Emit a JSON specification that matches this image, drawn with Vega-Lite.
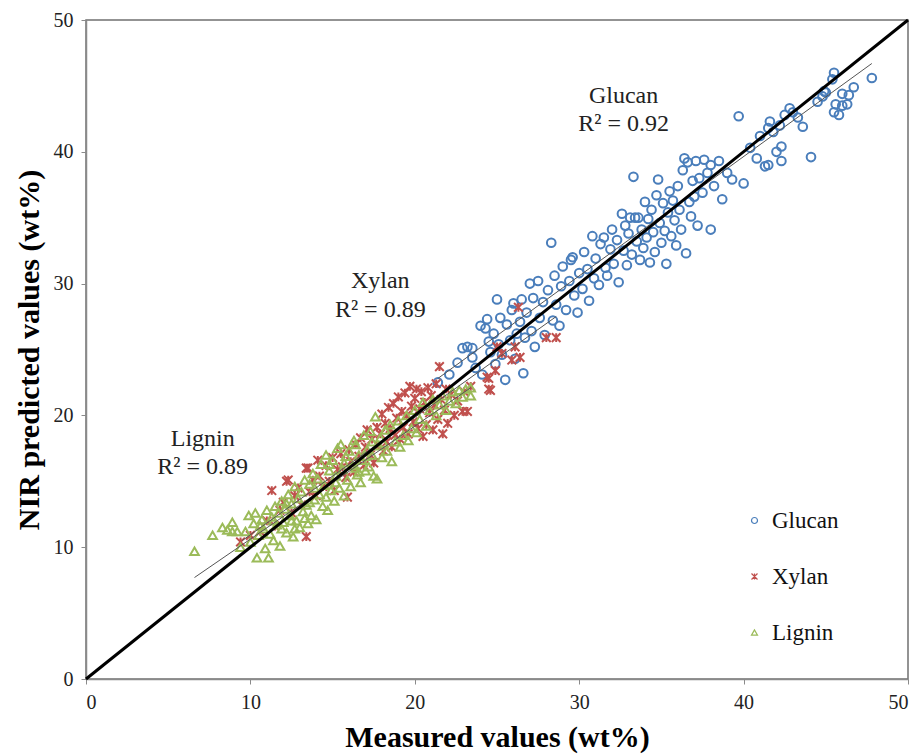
{
  "$schema": "https://vega.github.io/schema/vega-lite/v6.json",
  "autosize": {"type": "none"},
  "padding": {"left": 86, "top": 20, "right": 13, "bottom": 75},
  "width": 822,
  "height": 659,
  "background": "white",
  "config": {
    "view": {"stroke": "#707070", "strokeWidth": 1.5},
    "font": "Liberation Serif, Times New Roman, serif",
    "axis": {
      "grid": false,
      "domainColor": "#8a8a8a",
      "domainWidth": 1.5,
      "tickColor": "#8a8a8a",
      "tickSize": 5,
      "labelFont": "Liberation Serif, Times New Roman, serif",
      "labelFontSize": 20,
      "labelColor": "#222222",
      "titleFont": "Liberation Serif, Times New Roman, serif",
      "titleFontSize": 30,
      "titleFontWeight": "bold",
      "titleColor": "#000000"
    },
    "legend": {
      "orient": "none",
      "legendX": 657,
      "legendY": 489,
      "labelFont": "Liberation Serif, Times New Roman, serif",
      "labelFontSize": 23,
      "labelColor": "#111111",
      "symbolSize": 36,
      "symbolStrokeWidth": 1.2,
      "rowPadding": 32,
      "labelOffset": 6,
      "title": null
    }
  },
  "datasets": {
    "pts": [
      {"c":"Glucan","x":21.4,"y":22.5},{"c":"Glucan","x":22.1,"y":23.1},{"c":"Glucan","x":22.6,"y":24.0},{"c":"Glucan","x":22.9,"y":25.1},{"c":"Glucan","x":23.2,"y":25.2},{"c":"Glucan","x":23.5,"y":25.1},{"c":"Glucan","x":23.5,"y":24.4},{"c":"Glucan","x":23.7,"y":23.6},{"c":"Glucan","x":24.0,"y":26.8},{"c":"Glucan","x":24.1,"y":23.1},
      {"c":"Glucan","x":24.3,"y":26.6},{"c":"Glucan","x":24.4,"y":27.3},{"c":"Glucan","x":24.5,"y":25.6},{"c":"Glucan","x":24.6,"y":24.8},{"c":"Glucan","x":24.8,"y":26.2},{"c":"Glucan","x":24.9,"y":23.9},{"c":"Glucan","x":25.0,"y":28.8},{"c":"Glucan","x":25.1,"y":25.4},{"c":"Glucan","x":25.2,"y":27.4},{"c":"Glucan","x":25.3,"y":24.6},
      {"c":"Glucan","x":25.5,"y":22.7},{"c":"Glucan","x":25.6,"y":26.9},{"c":"Glucan","x":25.8,"y":25.7},{"c":"Glucan","x":25.9,"y":28.0},{"c":"Glucan","x":26.0,"y":28.5},{"c":"Glucan","x":26.1,"y":24.3},{"c":"Glucan","x":26.2,"y":26.2},{"c":"Glucan","x":26.4,"y":27.1},{"c":"Glucan","x":26.5,"y":28.8},{"c":"Glucan","x":26.6,"y":23.2},
      {"c":"Glucan","x":26.7,"y":25.9},{"c":"Glucan","x":26.8,"y":27.8},{"c":"Glucan","x":27.0,"y":30.0},{"c":"Glucan","x":27.1,"y":26.4},{"c":"Glucan","x":27.2,"y":28.9},{"c":"Glucan","x":27.3,"y":25.2},{"c":"Glucan","x":27.5,"y":30.2},{"c":"Glucan","x":27.6,"y":27.4},{"c":"Glucan","x":27.8,"y":28.6},{"c":"Glucan","x":27.9,"y":26.1},
      {"c":"Glucan","x":28.1,"y":29.5},{"c":"Glucan","x":28.3,"y":33.1},{"c":"Glucan","x":28.4,"y":27.2},{"c":"Glucan","x":28.5,"y":30.6},{"c":"Glucan","x":28.6,"y":28.4},{"c":"Glucan","x":28.8,"y":26.8},{"c":"Glucan","x":28.9,"y":29.8},{"c":"Glucan","x":29.0,"y":31.3},{"c":"Glucan","x":29.2,"y":28.0},{"c":"Glucan","x":29.4,"y":30.2},
      {"c":"Glucan","x":29.5,"y":31.8},{"c":"Glucan","x":29.6,"y":32.0},{"c":"Glucan","x":29.7,"y":29.1},{"c":"Glucan","x":29.9,"y":27.8},{"c":"Glucan","x":30.0,"y":30.8},{"c":"Glucan","x":30.2,"y":29.6},{"c":"Glucan","x":30.3,"y":32.4},{"c":"Glucan","x":30.5,"y":31.1},{"c":"Glucan","x":30.6,"y":28.7},{"c":"Glucan","x":30.8,"y":33.6},
      {"c":"Glucan","x":30.9,"y":30.4},{"c":"Glucan","x":31.0,"y":31.9},{"c":"Glucan","x":31.2,"y":29.9},{"c":"Glucan","x":31.3,"y":33.0},{"c":"Glucan","x":31.5,"y":33.5},{"c":"Glucan","x":31.6,"y":31.2},{"c":"Glucan","x":31.7,"y":30.6},{"c":"Glucan","x":31.9,"y":32.6},{"c":"Glucan","x":32.0,"y":34.1},{"c":"Glucan","x":32.1,"y":31.5},
      {"c":"Glucan","x":32.3,"y":33.3},{"c":"Glucan","x":32.4,"y":30.1},{"c":"Glucan","x":32.6,"y":35.3},{"c":"Glucan","x":32.7,"y":32.5},{"c":"Glucan","x":32.8,"y":34.4},{"c":"Glucan","x":32.9,"y":31.4},{"c":"Glucan","x":33.0,"y":33.8},{"c":"Glucan","x":33.1,"y":35.0},{"c":"Glucan","x":33.2,"y":32.2},{"c":"Glucan","x":33.3,"y":38.1},
      {"c":"Glucan","x":33.4,"y":35.0},{"c":"Glucan","x":33.5,"y":33.2},{"c":"Glucan","x":33.6,"y":35.0},{"c":"Glucan","x":33.7,"y":31.8},{"c":"Glucan","x":33.8,"y":34.1},{"c":"Glucan","x":33.9,"y":32.7},{"c":"Glucan","x":34.0,"y":36.2},{"c":"Glucan","x":34.1,"y":33.5},{"c":"Glucan","x":34.2,"y":34.9},{"c":"Glucan","x":34.3,"y":31.6},
      {"c":"Glucan","x":34.4,"y":35.6},{"c":"Glucan","x":34.5,"y":33.9},{"c":"Glucan","x":34.6,"y":32.4},{"c":"Glucan","x":34.7,"y":36.7},{"c":"Glucan","x":34.8,"y":37.9},{"c":"Glucan","x":34.9,"y":34.6},{"c":"Glucan","x":35.0,"y":33.1},{"c":"Glucan","x":35.1,"y":36.1},{"c":"Glucan","x":35.2,"y":34.0},{"c":"Glucan","x":35.3,"y":31.5},
      {"c":"Glucan","x":35.4,"y":35.4},{"c":"Glucan","x":35.5,"y":37.0},{"c":"Glucan","x":35.6,"y":33.6},{"c":"Glucan","x":35.7,"y":36.3},{"c":"Glucan","x":35.8,"y":34.8},{"c":"Glucan","x":35.9,"y":32.9},{"c":"Glucan","x":36.0,"y":37.4},{"c":"Glucan","x":36.1,"y":35.6},{"c":"Glucan","x":36.2,"y":34.1},{"c":"Glucan","x":36.3,"y":38.6},
      {"c":"Glucan","x":36.4,"y":39.5},{"c":"Glucan","x":36.5,"y":32.3},{"c":"Glucan","x":36.6,"y":39.2},{"c":"Glucan","x":36.7,"y":36.2},{"c":"Glucan","x":36.8,"y":35.1},{"c":"Glucan","x":36.9,"y":37.8},{"c":"Glucan","x":37.0,"y":36.6},{"c":"Glucan","x":37.1,"y":39.3},{"c":"Glucan","x":37.2,"y":34.4},{"c":"Glucan","x":37.3,"y":38.0},
      {"c":"Glucan","x":37.5,"y":36.9},{"c":"Glucan","x":37.6,"y":39.4},{"c":"Glucan","x":37.8,"y":38.4},{"c":"Glucan","x":38.0,"y":39.0},{"c":"Glucan","x":38.0,"y":34.1},{"c":"Glucan","x":38.2,"y":37.4},{"c":"Glucan","x":38.5,"y":39.3},{"c":"Glucan","x":38.7,"y":36.4},{"c":"Glucan","x":39.0,"y":38.4},{"c":"Glucan","x":39.3,"y":37.9},
      {"c":"Glucan","x":39.7,"y":42.7},{"c":"Glucan","x":40.0,"y":37.6},{"c":"Glucan","x":40.4,"y":40.3},{"c":"Glucan","x":40.8,"y":39.5},{"c":"Glucan","x":41.0,"y":41.2},{"c":"Glucan","x":41.3,"y":38.9},{"c":"Glucan","x":41.5,"y":41.8},{"c":"Glucan","x":41.5,"y":39.0},{"c":"Glucan","x":41.6,"y":42.3},{"c":"Glucan","x":41.8,"y":41.5},
      {"c":"Glucan","x":42.0,"y":40.0},{"c":"Glucan","x":42.2,"y":42.0},{"c":"Glucan","x":42.3,"y":40.4},{"c":"Glucan","x":42.3,"y":39.3},{"c":"Glucan","x":42.5,"y":42.8},{"c":"Glucan","x":42.8,"y":43.3},{"c":"Glucan","x":43.0,"y":43.0},{"c":"Glucan","x":43.3,"y":42.6},{"c":"Glucan","x":43.6,"y":41.9},{"c":"Glucan","x":44.1,"y":39.6},
      {"c":"Glucan","x":44.5,"y":43.8},{"c":"Glucan","x":44.8,"y":44.2},{"c":"Glucan","x":44.9,"y":44.6},{"c":"Glucan","x":45.0,"y":44.5},{"c":"Glucan","x":45.4,"y":45.5},{"c":"Glucan","x":45.5,"y":46.0},{"c":"Glucan","x":45.5,"y":43.0},{"c":"Glucan","x":45.6,"y":43.6},{"c":"Glucan","x":45.8,"y":42.8},{"c":"Glucan","x":46.0,"y":44.4},
      {"c":"Glucan","x":46.0,"y":43.5},{"c":"Glucan","x":46.3,"y":43.6},{"c":"Glucan","x":46.4,"y":44.3},{"c":"Glucan","x":46.7,"y":44.9},{"c":"Glucan","x":47.8,"y":45.6},

      {"c":"Xylan","x":9.4,"y":10.4},{"c":"Xylan","x":10.0,"y":10.9},{"c":"Xylan","x":10.6,"y":11.2},{"c":"Xylan","x":11.0,"y":12.0},{"c":"Xylan","x":11.3,"y":14.3},{"c":"Xylan","x":11.5,"y":11.6},{"c":"Xylan","x":11.8,"y":12.8},{"c":"Xylan","x":12.0,"y":13.4},{"c":"Xylan","x":12.2,"y":15.0},{"c":"Xylan","x":12.3,"y":15.1},
      {"c":"Xylan","x":12.5,"y":12.6},{"c":"Xylan","x":12.7,"y":13.9},{"c":"Xylan","x":12.9,"y":14.5},{"c":"Xylan","x":13.1,"y":13.2},{"c":"Xylan","x":13.4,"y":10.8},{"c":"Xylan","x":13.4,"y":16.0},{"c":"Xylan","x":13.5,"y":16.0},{"c":"Xylan","x":13.6,"y":14.2},{"c":"Xylan","x":13.8,"y":15.1},{"c":"Xylan","x":14.0,"y":13.9},
      {"c":"Xylan","x":14.1,"y":16.6},{"c":"Xylan","x":14.2,"y":15.4},{"c":"Xylan","x":14.4,"y":14.6},{"c":"Xylan","x":14.6,"y":16.2},{"c":"Xylan","x":14.8,"y":15.0},{"c":"Xylan","x":15.0,"y":16.8},{"c":"Xylan","x":15.1,"y":14.3},{"c":"Xylan","x":15.3,"y":15.9},{"c":"Xylan","x":15.5,"y":17.1},{"c":"Xylan","x":15.6,"y":16.1},
      {"c":"Xylan","x":15.8,"y":15.3},{"c":"Xylan","x":15.9,"y":13.8},{"c":"Xylan","x":16.0,"y":17.4},{"c":"Xylan","x":16.1,"y":16.5},{"c":"Xylan","x":16.3,"y":15.7},{"c":"Xylan","x":16.4,"y":17.8},{"c":"Xylan","x":16.6,"y":16.9},{"c":"Xylan","x":16.7,"y":18.3},{"c":"Xylan","x":16.9,"y":16.2},{"c":"Xylan","x":17.0,"y":17.6},
      {"c":"Xylan","x":17.1,"y":18.9},{"c":"Xylan","x":17.3,"y":17.0},{"c":"Xylan","x":17.4,"y":18.2},{"c":"Xylan","x":17.5,"y":16.4},{"c":"Xylan","x":17.7,"y":19.1},{"c":"Xylan","x":17.8,"y":17.7},{"c":"Xylan","x":17.9,"y":18.6},{"c":"Xylan","x":18.0,"y":20.1},{"c":"Xylan","x":18.1,"y":17.3},{"c":"Xylan","x":18.2,"y":19.4},
      {"c":"Xylan","x":18.3,"y":18.0},{"c":"Xylan","x":18.4,"y":20.6},{"c":"Xylan","x":18.5,"y":19.0},{"c":"Xylan","x":18.6,"y":17.6},{"c":"Xylan","x":18.7,"y":20.9},{"c":"Xylan","x":18.8,"y":18.5},{"c":"Xylan","x":18.9,"y":19.8},{"c":"Xylan","x":19.0,"y":21.4},{"c":"Xylan","x":19.1,"y":18.2},{"c":"Xylan","x":19.2,"y":20.3},
      {"c":"Xylan","x":19.3,"y":19.1},{"c":"Xylan","x":19.4,"y":21.7},{"c":"Xylan","x":19.5,"y":20.0},{"c":"Xylan","x":19.6,"y":18.6},{"c":"Xylan","x":19.7,"y":22.2},{"c":"Xylan","x":19.8,"y":20.7},{"c":"Xylan","x":19.9,"y":19.5},{"c":"Xylan","x":20.0,"y":21.3},{"c":"Xylan","x":20.1,"y":22.0},{"c":"Xylan","x":20.2,"y":19.0},
      {"c":"Xylan","x":20.3,"y":20.5},{"c":"Xylan","x":20.4,"y":21.8},{"c":"Xylan","x":20.5,"y":18.4},{"c":"Xylan","x":20.6,"y":21.0},{"c":"Xylan","x":20.7,"y":19.3},{"c":"Xylan","x":20.8,"y":22.1},{"c":"Xylan","x":20.9,"y":20.2},{"c":"Xylan","x":21.0,"y":21.5},{"c":"Xylan","x":21.1,"y":18.9},{"c":"Xylan","x":21.2,"y":20.8},
      {"c":"Xylan","x":21.3,"y":22.4},{"c":"Xylan","x":21.4,"y":19.7},{"c":"Xylan","x":21.5,"y":23.7},{"c":"Xylan","x":21.6,"y":21.2},{"c":"Xylan","x":21.7,"y":18.6},{"c":"Xylan","x":21.8,"y":20.4},{"c":"Xylan","x":21.9,"y":22.0},{"c":"Xylan","x":22.0,"y":19.4},{"c":"Xylan","x":22.2,"y":21.6},{"c":"Xylan","x":22.4,"y":20.0},
      {"c":"Xylan","x":22.6,"y":21.1},{"c":"Xylan","x":22.9,"y":20.3},{"c":"Xylan","x":23.0,"y":21.8},{"c":"Xylan","x":23.2,"y":20.3},{"c":"Xylan","x":23.4,"y":22.2},{"c":"Xylan","x":24.4,"y":22.9},{"c":"Xylan","x":24.5,"y":22.0},{"c":"Xylan","x":24.5,"y":22.8},{"c":"Xylan","x":24.6,"y":21.9},{"c":"Xylan","x":24.9,"y":23.4},
      {"c":"Xylan","x":25.0,"y":25.2},{"c":"Xylan","x":25.3,"y":24.7},{"c":"Xylan","x":25.9,"y":24.2},{"c":"Xylan","x":26.1,"y":25.2},{"c":"Xylan","x":26.3,"y":28.2},{"c":"Xylan","x":26.4,"y":24.4},{"c":"Xylan","x":28.0,"y":25.9},{"c":"Xylan","x":28.6,"y":25.9},

      {"c":"Lignin","x":6.6,"y":9.7},{"c":"Lignin","x":7.7,"y":10.9},{"c":"Lignin","x":8.3,"y":11.5},{"c":"Lignin","x":8.6,"y":11.3},{"c":"Lignin","x":8.9,"y":11.9},{"c":"Lignin","x":8.9,"y":11.2},{"c":"Lignin","x":9.2,"y":11.2},{"c":"Lignin","x":9.4,"y":10.0},{"c":"Lignin","x":9.7,"y":11.2},{"c":"Lignin","x":9.9,"y":12.4},
      {"c":"Lignin","x":10.0,"y":10.4},{"c":"Lignin","x":10.2,"y":11.8},{"c":"Lignin","x":10.3,"y":12.6},{"c":"Lignin","x":10.4,"y":9.2},{"c":"Lignin","x":10.5,"y":10.9},{"c":"Lignin","x":10.7,"y":12.1},{"c":"Lignin","x":10.8,"y":11.4},{"c":"Lignin","x":10.9,"y":9.9},{"c":"Lignin","x":11.0,"y":12.8},{"c":"Lignin","x":11.1,"y":9.2},
      {"c":"Lignin","x":11.2,"y":11.0},{"c":"Lignin","x":11.3,"y":12.3},{"c":"Lignin","x":11.4,"y":10.5},{"c":"Lignin","x":11.5,"y":13.1},{"c":"Lignin","x":11.6,"y":11.7},{"c":"Lignin","x":11.7,"y":12.6},{"c":"Lignin","x":11.8,"y":10.1},{"c":"Lignin","x":11.9,"y":13.5},{"c":"Lignin","x":12.0,"y":11.9},{"c":"Lignin","x":12.1,"y":12.9},
      {"c":"Lignin","x":12.2,"y":11.1},{"c":"Lignin","x":12.3,"y":14.0},{"c":"Lignin","x":12.4,"y":12.4},{"c":"Lignin","x":12.5,"y":13.3},{"c":"Lignin","x":12.6,"y":10.8},{"c":"Lignin","x":12.7,"y":14.6},{"c":"Lignin","x":12.8,"y":12.0},{"c":"Lignin","x":12.9,"y":13.7},{"c":"Lignin","x":13.0,"y":11.5},{"c":"Lignin","x":13.1,"y":14.2},
      {"c":"Lignin","x":13.2,"y":12.7},{"c":"Lignin","x":13.3,"y":15.1},{"c":"Lignin","x":13.4,"y":13.2},{"c":"Lignin","x":13.5,"y":11.8},{"c":"Lignin","x":13.6,"y":14.8},{"c":"Lignin","x":13.7,"y":12.4},{"c":"Lignin","x":13.8,"y":15.6},{"c":"Lignin","x":13.9,"y":13.6},{"c":"Lignin","x":14.0,"y":12.1},{"c":"Lignin","x":14.1,"y":15.2},
      {"c":"Lignin","x":14.2,"y":14.0},{"c":"Lignin","x":14.3,"y":16.3},{"c":"Lignin","x":14.4,"y":13.1},{"c":"Lignin","x":14.5,"y":14.7},{"c":"Lignin","x":14.6,"y":17.0},{"c":"Lignin","x":14.7,"y":12.8},{"c":"Lignin","x":14.8,"y":15.8},{"c":"Lignin","x":14.9,"y":14.3},{"c":"Lignin","x":15.0,"y":16.6},{"c":"Lignin","x":15.1,"y":13.5},
      {"c":"Lignin","x":15.2,"y":15.4},{"c":"Lignin","x":15.3,"y":17.5},{"c":"Lignin","x":15.4,"y":14.5},{"c":"Lignin","x":15.5,"y":17.8},{"c":"Lignin","x":15.6,"y":15.9},{"c":"Lignin","x":15.7,"y":13.9},{"c":"Lignin","x":15.8,"y":16.9},{"c":"Lignin","x":15.9,"y":15.1},{"c":"Lignin","x":16.0,"y":17.3},{"c":"Lignin","x":16.1,"y":14.6},
      {"c":"Lignin","x":16.2,"y":16.2},{"c":"Lignin","x":16.3,"y":18.1},{"c":"Lignin","x":16.4,"y":17.8},{"c":"Lignin","x":16.5,"y":15.5},{"c":"Lignin","x":16.6,"y":17.0},{"c":"Lignin","x":16.7,"y":14.9},{"c":"Lignin","x":16.8,"y":16.6},{"c":"Lignin","x":16.9,"y":18.5},{"c":"Lignin","x":17.0,"y":15.8},{"c":"Lignin","x":17.1,"y":17.4},
      {"c":"Lignin","x":17.2,"y":16.1},{"c":"Lignin","x":17.3,"y":18.8},{"c":"Lignin","x":17.4,"y":17.0},{"c":"Lignin","x":17.5,"y":15.4},{"c":"Lignin","x":17.6,"y":19.9},{"c":"Lignin","x":17.7,"y":15.2},{"c":"Lignin","x":17.8,"y":17.7},{"c":"Lignin","x":17.9,"y":18.3},{"c":"Lignin","x":18.0,"y":16.8},{"c":"Lignin","x":18.2,"y":18.9},
      {"c":"Lignin","x":18.3,"y":17.3},{"c":"Lignin","x":18.5,"y":19.3},{"c":"Lignin","x":18.6,"y":16.5},{"c":"Lignin","x":18.8,"y":18.0},{"c":"Lignin","x":19.0,"y":19.6},{"c":"Lignin","x":19.1,"y":17.6},{"c":"Lignin","x":19.3,"y":18.5},{"c":"Lignin","x":19.5,"y":20.0},{"c":"Lignin","x":19.6,"y":18.1},{"c":"Lignin","x":19.8,"y":19.0},
      {"c":"Lignin","x":20.0,"y":20.4},{"c":"Lignin","x":20.1,"y":18.7},{"c":"Lignin","x":20.3,"y":19.7},{"c":"Lignin","x":20.5,"y":21.0},{"c":"Lignin","x":20.7,"y":19.2},{"c":"Lignin","x":20.9,"y":20.4},{"c":"Lignin","x":21.1,"y":21.2},{"c":"Lignin","x":21.3,"y":20.0},{"c":"Lignin","x":21.5,"y":20.8},{"c":"Lignin","x":21.7,"y":21.5},
      {"c":"Lignin","x":21.9,"y":20.4},{"c":"Lignin","x":22.1,"y":21.1},{"c":"Lignin","x":22.3,"y":21.8},{"c":"Lignin","x":22.5,"y":20.9},{"c":"Lignin","x":22.7,"y":21.9},{"c":"Lignin","x":22.9,"y":21.4},{"c":"Lignin","x":23.1,"y":22.0},{"c":"Lignin","x":23.4,"y":21.5},{"c":"Lignin","x":23.4,"y":22.1},{"c":"Lignin","x":12.5,"y":12.0},
      {"c":"Lignin","x":11.9,"y":11.4},{"c":"Lignin","x":13.3,"y":12.2},{"c":"Lignin","x":14.6,"y":13.8},{"c":"Lignin","x":15.2,"y":14.9},{"c":"Lignin","x":16.4,"y":16.0},{"c":"Lignin","x":17.0,"y":16.9},{"c":"Lignin","x":18.1,"y":17.9},{"c":"Lignin","x":10.6,"y":11.6},{"c":"Lignin","x":11.4,"y":12.0},{"c":"Lignin","x":12.2,"y":13.3},
      {"c":"Lignin","x":13.9,"y":14.5},{"c":"Lignin","x":14.8,"y":16.3},{"c":"Lignin","x":15.7,"y":16.4},{"c":"Lignin","x":16.6,"y":15.7},{"c":"Lignin","x":17.4,"y":18.0},{"c":"Lignin","x":12.7,"y":11.4},{"c":"Lignin","x":13.6,"y":13.4}
    ],
    "fits": [
      {"c":"Glucan","x":21.4,"y":22.8,"x2":47.8,"y2":46.7},
      {"c":"Xylan","x":9.5,"y":10.5,"x2":28.6,"y2":27.5},
      {"c":"Lignin","x":6.6,"y":7.7,"x2":23.4,"y2":22.1}
    ],
    "ident": [{"x":0,"y":0,"x2":50,"y2":50}],
    "labels": [
      {"t":"Glucan","x":32.7,"y":44.2},
      {"t":"R² = 0.92","x":32.7,"y":42.1},
      {"t":"Xylan","x":17.9,"y":30.2},
      {"t":"R² = 0.89","x":17.9,"y":28.0},
      {"t":"Lignin","x":7.1,"y":18.2},
      {"t":"R² = 0.89","x":7.1,"y":16.1}
    ]
  },
  "layer": [
    {
      "data": {"name": "pts"},
      "mark": {"type": "point", "filled": false, "strokeWidth": 2, "size": 75, "opacity": 1},
      "encoding": {
        "x": {"field": "x", "type": "quantitative", "scale": {"domain": [0, 50]}, "axis": {"values": [0,10,20,30,40,50], "title": "Measured values (wt%)", "labelPadding": 8, "titlePadding": 10}},
        "y": {"field": "y", "type": "quantitative", "scale": {"domain": [0, 50]}, "axis": {"values": [0,10,20,30,40,50], "title": "NIR predicted values (wt%)", "labelPadding": 8, "titlePadding": 9}},
        "color": {"field": "c", "type": "nominal", "scale": {"domain": ["Glucan","Xylan","Lignin"], "range": ["#4a7ebb","#c0504d","#9bbb59"]}, "legend": {}},
        "shape": {"field": "c", "type": "nominal", "scale": {"domain": ["Glucan","Xylan","Lignin"], "range": ["circle","M-1,-1L1,1M-1,1L1,-1M0,-1L0,1","triangle-up"]}, "legend": {}}
      }
    },
    {
      "data": {"name": "fits"},
      "mark": {"type": "rule", "color": "#555555", "strokeWidth": 1},
      "encoding": {
        "x": {"field": "x", "type": "quantitative"},
        "y": {"field": "y", "type": "quantitative"},
        "x2": {"field": "x2"},
        "y2": {"field": "y2"}
      }
    },
    {
      "data": {"name": "ident"},
      "mark": {"type": "rule", "color": "#000000", "strokeWidth": 3},
      "encoding": {
        "x": {"field": "x", "type": "quantitative"},
        "y": {"field": "y", "type": "quantitative"},
        "x2": {"field": "x2"},
        "y2": {"field": "y2"}
      }
    },
    {
      "data": {"name": "labels"},
      "mark": {"type": "text", "font": "Liberation Serif, Times New Roman, serif", "fontSize": 24, "color": "#222222", "align": "center", "baseline": "middle"},
      "encoding": {
        "x": {"field": "x", "type": "quantitative"},
        "y": {"field": "y", "type": "quantitative"},
        "text": {"field": "t"}
      }
    }
  ]
}
